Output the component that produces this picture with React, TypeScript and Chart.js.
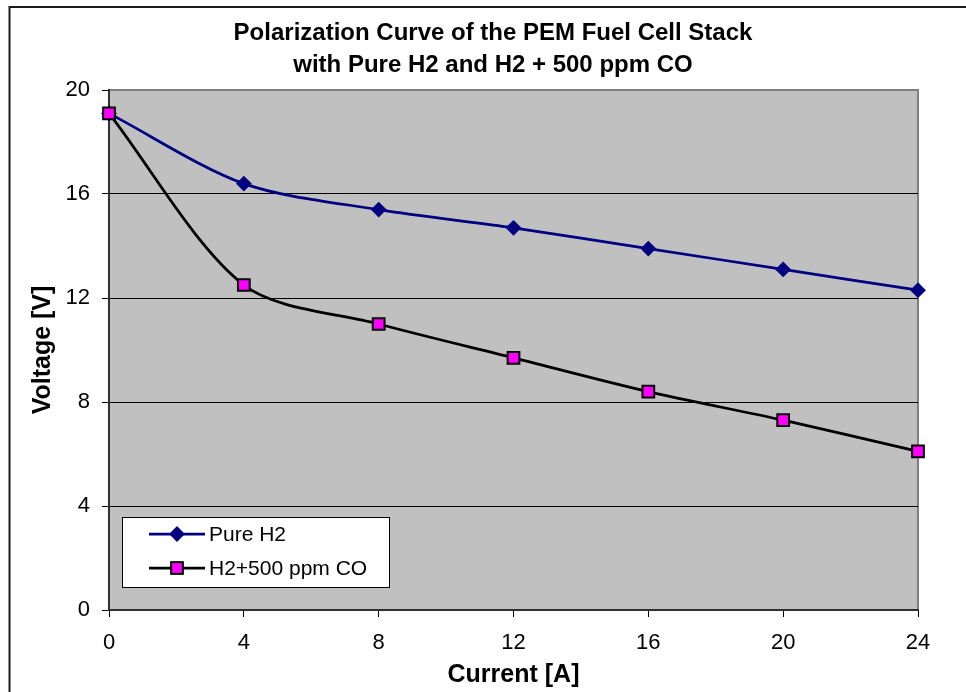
import React, { useEffect, useRef } from "react";
import { Chart, registerables } from "chart.js";

Chart.register(...registerables);

const currents = [0, 4, 8, 12, 16, 20, 24];
const pureH2Voltage = [19.1, 16.4, 15.4, 14.7, 13.9, 13.1, 12.3];
const coVoltage = [19.1, 12.5, 11.0, 9.7, 8.4, 7.3, 6.1];
const seriesNames = ["Pure H2", "H2+500 ppm CO"];
const chartTitle = [
  "Polarization Curve of the PEM Fuel Cell Stack",
  "with Pure H2 and H2 + 500 ppm CO",
];
const xAxisTitle = "Current [A]";
const yAxisTitle = "Voltage [V]";
const currentTickStep = 4;
const voltageTickStep = 4;

const FONT = '"Liberation Sans", Arial, sans-serif';
const BLUE = "#000080";
const MAGENTA = "#FF00FF";

export default function App() {
  const ref = useRef<HTMLCanvasElement>(null);

  useEffect(() => {
    const canvas = ref.current;
    if (!canvas) return;

    const decor = {
      id: "decor",
      beforeDraw(chart: any) {
        const { ctx, chartArea: a } = chart;
        ctx.save();
        ctx.fillStyle = "#ffffff";
        ctx.fillRect(0, 0, chart.width, chart.height);
        // plot area
        ctx.fillStyle = "#C0C0C0";
        ctx.fillRect(a.left, a.top, a.right - a.left, a.bottom - a.top);
        ctx.strokeStyle = "#808080";
        ctx.lineWidth = 2;
        ctx.beginPath();
        ctx.moveTo(a.left, a.top);
        ctx.lineTo(a.right, a.top);
        ctx.lineTo(a.right, a.bottom);
        ctx.stroke();
        // outer frame
        ctx.strokeStyle = "#1a1a1a";
        ctx.lineWidth = 2;
        ctx.beginPath();
        ctx.moveTo(9.5, chart.height + 2);
        ctx.lineTo(9.5, 7);
        ctx.lineTo(chart.width + 2, 7);
        ctx.stroke();
        // chart title
        ctx.fillStyle = "#000";
        ctx.font = `bold 24px ${FONT}`;
        ctx.textAlign = "center";
        ctx.textBaseline = "alphabetic";
        ctx.fillText(chartTitle[0], 493, 40);
        ctx.fillText(chartTitle[1], 493, 72);
        // axis titles
        ctx.font = `bold 25px ${FONT}`;
        ctx.fillText(xAxisTitle, (a.left + a.right) / 2, 682);
        ctx.save();
        ctx.translate(50, (a.top + a.bottom) / 2);
        ctx.rotate(-Math.PI / 2);
        ctx.fillText(yAxisTitle, 0, 0);
        ctx.restore();
        ctx.restore();
      },
      afterDraw(chart: any) {
        const { ctx } = chart;
        const ds = chart.data.datasets;
        ctx.save();
        // legend box
        ctx.fillStyle = "#ffffff";
        ctx.fillRect(122, 517, 267, 70);
        ctx.strokeStyle = "#000";
        ctx.lineWidth = 1;
        ctx.strokeRect(122.5, 517.5, 267, 70);
        const rows = [534, 568];
        ds.forEach((d: any, i: number) => {
          const y = rows[i];
          ctx.strokeStyle = d.borderColor;
          ctx.lineWidth = d.borderWidth;
          ctx.beginPath();
          ctx.moveTo(149, y);
          ctx.lineTo(205, y);
          ctx.stroke();
          const cx = 177;
          if (d.pointStyle === "rectRot") {
            const r = d.pointRadius;
            ctx.fillStyle = d.pointBackgroundColor;
            ctx.strokeStyle = d.pointBorderColor;
            ctx.lineWidth = d.pointBorderWidth;
            ctx.beginPath();
            ctx.moveTo(cx, y - r);
            ctx.lineTo(cx + r, y);
            ctx.lineTo(cx, y + r);
            ctx.lineTo(cx - r, y);
            ctx.closePath();
            ctx.fill();
            ctx.stroke();
          } else {
            const s = d.pointRadius * Math.SQRT1_2;
            ctx.fillStyle = d.pointBackgroundColor;
            ctx.strokeStyle = d.pointBorderColor;
            ctx.lineWidth = d.pointBorderWidth;
            ctx.fillRect(cx - s, y - s, 2 * s, 2 * s);
            ctx.strokeRect(cx - s, y - s, 2 * s, 2 * s);
          }
          ctx.fillStyle = "#000";
          ctx.font = `21px ${FONT}`;
          ctx.textAlign = "left";
          ctx.textBaseline = "middle";
          ctx.fillText(d.label, 209, y + 1);
        });
        ctx.restore();
      },
    };

    const chart = new Chart(canvas, {
      type: "line",
      data: {
        datasets: [
          {
            label: seriesNames[0],
            data: currents.map((x, i) => ({ x, y: pureH2Voltage[i] })),
            borderColor: BLUE,
            backgroundColor: BLUE,
            borderWidth: 2.75,
            pointStyle: "rectRot",
            pointRadius: 6.5,
            pointBorderWidth: 2,
            pointBackgroundColor: BLUE,
            pointBorderColor: BLUE,
            tension: 0.3,
            clip: false as any,
            order: 1,
          } as any,
          {
            label: seriesNames[1],
            data: currents.map((x, i) => ({ x, y: coVoltage[i] })),
            borderColor: "#000000",
            backgroundColor: MAGENTA,
            borderWidth: 2.75,
            pointStyle: "rect",
            pointRadius: 8.3,
            pointBorderWidth: 2,
            pointBackgroundColor: MAGENTA,
            pointBorderColor: "#000000",
            tension: 0.3,
            clip: false as any,
            order: 0,
          } as any,
        ],
      },
      options: {
        responsive: false,
        animation: false,
        events: [],
        layout: { padding: { left: 0, top: 90, right: 48, bottom: 0 } },
        plugins: {
          legend: { display: false },
          title: { display: false },
          tooltip: { enabled: false },
        },
        scales: {
          x: {
            type: "linear",
            min: 0,
            max: 24,
            ticks: {
              stepSize: currentTickStep,
              color: "#000",
              font: { family: FONT, size: 22 },
              padding: 13,
              maxRotation: 0,
            },
            grid: {
              drawOnChartArea: false,
              drawTicks: true,
              tickLength: 7,
              tickColor: "#000",
              tickWidth: 1,
            },
            border: { color: "#303030", width: 2 },
            afterFit: (s: any) => {
              s.height = 82;
            },
          },
          y: {
            type: "linear",
            min: 0,
            max: 20,
            ticks: {
              stepSize: voltageTickStep,
              color: "#000",
              font: { family: FONT, size: 22 },
              padding: 12,
            },
            grid: {
              color: (c: any) =>
                c.tick && (c.tick.value === 20 || c.tick.value === 0)
                  ? "rgba(0,0,0,0)"
                  : "#000",
              lineWidth: 1,
              drawTicks: true,
              tickLength: 7,
              tickColor: "#000",
              tickWidth: 1,
            },
            border: { color: "#303030", width: 2 },
            afterFit: (s: any) => {
              s.width = 109;
            },
          },
        },
      },
      plugins: [decor],
    });

    return () => chart.destroy();
  }, []);

  return (
    <div style={{ position: "absolute", left: 0, top: 0, width: 966, height: 692, overflow: "hidden" }}>
      <canvas ref={ref} width={966} height={692} style={{ display: "block" }} />
    </div>
  );
}
